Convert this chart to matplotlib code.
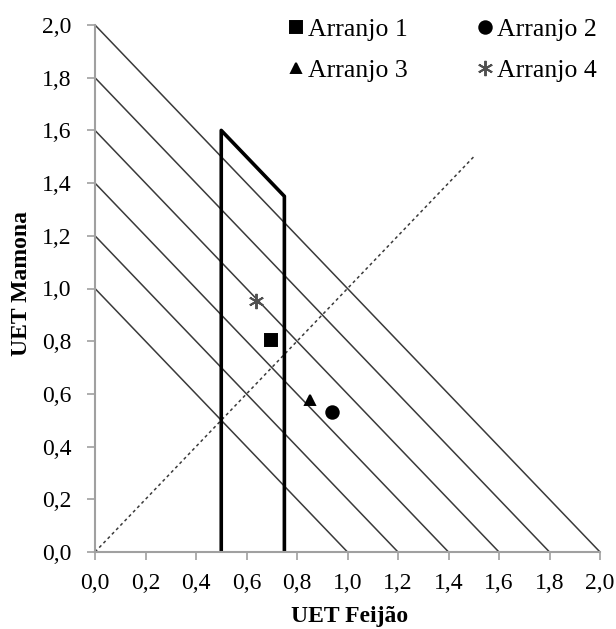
import matplotlib.pyplot as plt
import numpy as np

plt.rcParams['font.family'] = ['Liberation Serif', 'DejaVu Serif']

# isoclines of total LER (x + y = const)
uet_totais = [1.0, 1.2, 1.4, 1.6, 1.8, 2.0]

# region limits
poly_x = [0.5, 0.5, 0.75, 0.75]
poly_y = [0.0, 1.6, 1.35, 0.0]

# diagonal reference y = x
diag_x = [0.0, 1.5]
diag_y = [0.0, 1.5]

# arrangements
nomes = ["Arranjo 1", "Arranjo 2", "Arranjo 3", "Arranjo 4"]
feijao = [0.697, 0.939, 0.851, 0.638]
mamona = [0.805, 0.531, 0.577, 0.953]
marcadores = ["s", "o", "^", (6, 2, 0)]
tamanhos = [9, 9, 7, 11]
cores = ["black", "black", "black", "#505050"]

ticks = [0.0, 0.2, 0.4, 0.6, 0.8, 1.0, 1.2, 1.4, 1.6, 1.8, 2.0]
tick_labels = ["{:.1f}".format(t).replace(".", ",") for t in ticks]

fig = plt.figure(figsize=(6.16, 6.29), dpi=100)
ax = fig.add_axes([95/616, 1 - 552/629, 505/616, 527/629])

for u in uet_totais:
    ax.plot([0, u], [u, 0], color="#3a3a3a", lw=1.1)

ax.plot(diag_x, diag_y, color="#3a3a3a", lw=1.1, ls=(0, (2, 2)))
ax.plot(poly_x, poly_y, color="black", lw=2.6)

handles = []
for n, xv, yv, m, s, c in zip(nomes, feijao, mamona, marcadores, tamanhos, cores):
    h, = ax.plot(xv, yv, marker=m, color=c, ms=s, mew=1.4, ls="none", label=n)
    handles.append(h)

ax.set_xlim(0, 2.0)
ax.set_ylim(0, 2.0)
ax.set_xticks(ticks)
ax.set_yticks(ticks)
ax.set_xticklabels(tick_labels, fontsize=17)
ax.set_yticklabels(tick_labels, fontsize=17)
ax.tick_params(direction="out", length=6, color="#a0a0a0", width=1.2)
ax.tick_params(axis="x", pad=9)
ax.tick_params(axis="y", pad=11)
ax.spines["top"].set_visible(False)
ax.spines["right"].set_visible(False)
ax.spines["left"].set_color("#a0a0a0")
ax.spines["bottom"].set_color("#a0a0a0")
ax.spines["left"].set_linewidth(1.5)
ax.spines["bottom"].set_linewidth(1.5)

ax.set_xlabel("UET Feijão", fontsize=17, fontweight="bold")
ax.set_ylabel("UET Mamona", fontsize=17, fontweight="bold")
ax.xaxis.set_label_coords(0.505, -0.103)
ax.yaxis.set_label_coords(-0.125, 0.51)

# row-wise order: 1, 2 / 3, 4
ordem = [0, 2, 1, 3]
fig.legend([handles[i] for i in ordem], [nomes[i] for i in ordem],
           loc="upper left", bbox_to_anchor=(288/616, 1 - 18/629), ncol=2,
           frameon=False, fontsize=18.5, borderpad=0, borderaxespad=0,
           handletextpad=0.17, columnspacing=2.7, handlelength=0.6,
           labelspacing=0.72)

plt.savefig("out.png", dpi=100)
